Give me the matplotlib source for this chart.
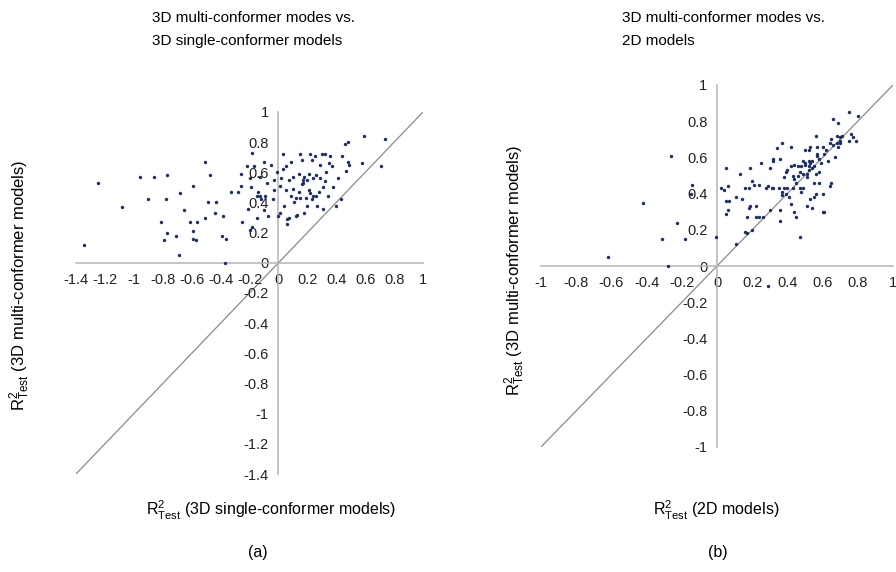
#!/usr/bin/env python3

import matplotlib as mpl
import matplotlib.pyplot as plt
import numpy as np

mpl.rcParams['font.family'] = ['Liberation Sans', 'DejaVu Sans']
mpl.rcParams['mathtext.fontset'] = 'custom'
mpl.rcParams['mathtext.rm'] = 'Liberation Sans'
mpl.rcParams['mathtext.it'] = 'Liberation Sans:italic'
mpl.rcParams['axes.unicode_minus'] = False

# (a) 3D single-conformer (x) vs 3D multi-conformer (y)
a_x = [-1.345, -1.25, -1.08, -0.96, -0.90, -0.86, -0.81, -0.79, -0.78, -0.77,
       -0.77, -0.71, -0.69, -0.68, -0.65, -0.61, -0.59, -0.59, -0.57, -0.59,
       -0.56, -0.51, -0.51, -0.49, -0.47, -0.44, -0.43, -0.39, -0.38, -0.37,
       -0.36, -0.33, -0.28, -0.26, -0.25, -0.26, -0.22, -0.21, -0.20, -0.19,
       -0.18, -0.18, -0.17, -0.15, -0.15, -0.14, -0.13, -0.13, -0.12, -0.10,
       -0.10, -0.09, -0.08, -0.07, -0.05, -0.04, -0.03, -0.03, -0.01, -0.005,
       0.01, 0.01, 0.02, 0.03, 0.03, 0.04, 0.05, 0.05, 0.06, 0.06,
       0.07, 0.07, 0.09, 0.09, 0.10, 0.10, 0.11, 0.12, 0.12, 0.13,
       0.14, 0.14, 0.15, 0.15, 0.16, 0.17, 0.17, 0.18, 0.18, 0.19,
       0.20, 0.20, 0.21, 0.21, 0.22, 0.23, 0.23, 0.24, 0.24, 0.25,
       0.26, 0.26, 0.27, 0.28, 0.29, 0.29, 0.30, 0.31, 0.31, 0.32,
       0.32, 0.33, 0.34, 0.35, 0.36, 0.37, 0.38, 0.40, 0.41, 0.43,
       0.44, 0.46, 0.47, 0.48, 0.48, 0.49, 0.58, 0.59, 0.71, 0.74,
       -0.20, 0.16, 0.22]
a_y = [0.12, 0.53, 0.37, 0.57, 0.42, 0.57, 0.27, 0.15, 0.42, 0.20,
       0.58, 0.18, 0.05, 0.46, 0.35, 0.27, 0.51, 0.16, 0.15, 0.21,
       0.27, 0.67, 0.30, 0.40, 0.58, 0.33, 0.40, 0.18, 0.31, 0.00,
       0.16, 0.47, 0.47, 0.59, 0.27, 0.51, 0.64, 0.36, 0.56, 0.50,
       0.73, 0.24, 0.64, 0.30, 0.44, 0.47, 0.44, 0.57, 0.42, 0.67,
       0.35, 0.44, 0.53, 0.31, 0.65, 0.42, 0.48, 0.55, 0.60, 0.31,
       0.33, 0.51, 0.56, 0.62, 0.72, 0.38, 0.48, 0.64, 0.29, 0.26,
       0.55, 0.30, 0.44, 0.67, 0.49, 0.57, 0.40, 0.31, 0.43, 0.32,
       0.59, 0.47, 0.72, 0.43, 0.68, 0.55, 0.53, 0.57, 0.33, 0.43,
       0.38, 0.55, 0.48, 0.59, 0.72, 0.42, 0.68, 0.56, 0.44, 0.71,
       0.44, 0.58, 0.38, 0.47, 0.65, 0.56, 0.72, 0.36, 0.50, 0.54,
       0.72, 0.60, 0.44, 0.66, 0.71, 0.64, 0.50, 0.38, 0.56, 0.42,
       0.71, 0.79, 0.61, 0.67, 0.80, 0.65, 0.66, 0.84, 0.64, 0.82,
       0.22, 0.52, 0.46]

# (b) 2D (x) vs 3D multi-conformer (y)
b_x = [-0.62, -0.42, -0.31, -0.28, -0.26, -0.23, -0.18, -0.14, -0.15, -0.004,
       0.02, 0.04, 0.05, 0.06, 0.05, 0.06, 0.05, 0.07, 0.11, 0.11,
       0.13, 0.14, 0.16, 0.16, 0.17, 0.17, 0.18, 0.19, 0.18, 0.19,
       0.20, 0.20, 0.21, 0.22, 0.22, 0.24, 0.24, 0.25, 0.26, 0.28,
       0.29, 0.30, 0.29, 0.30, 0.31, 0.32, 0.32, 0.32, 0.34, 0.35,
       0.36, 0.36, 0.36, 0.37, 0.37, 0.37, 0.38, 0.38, 0.39, 0.39,
       0.40, 0.40, 0.41, 0.42, 0.42, 0.42, 0.43, 0.43, 0.44, 0.44,
       0.45, 0.45, 0.46, 0.46, 0.47, 0.47, 0.48, 0.48, 0.49, 0.49,
       0.49, 0.50, 0.50, 0.51, 0.51, 0.51, 0.52, 0.52, 0.52, 0.53,
       0.53, 0.54, 0.54, 0.54, 0.55, 0.55, 0.56, 0.56, 0.56, 0.57,
       0.57, 0.58, 0.58, 0.58, 0.59, 0.60, 0.60, 0.60, 0.61, 0.61,
       0.63, 0.64, 0.64, 0.65, 0.65, 0.66, 0.67, 0.68, 0.68, 0.69,
       0.69, 0.70, 0.70, 0.71, 0.75, 0.75, 0.76, 0.77, 0.79, 0.80,
       0.50, 0.52, 0.53, 0.47, 0.55, 0.44, 0.57, 0.62, 0.66, 0.70]
b_y = [0.05, 0.35, 0.15, 0.00, 0.61, 0.24, 0.15, 0.45, 0.40, 0.16,
       0.43, 0.42, 0.54, 0.44, 0.29, 0.31, 0.36, 0.36, 0.12, 0.38,
       0.51, 0.37, 0.43, 0.19, 0.18, 0.27, 0.32, 0.33, 0.43, 0.54,
       0.20, 0.47, 0.45, 0.27, 0.33, 0.45, 0.27, 0.57, 0.27, 0.43,
       -0.11, 0.31, 0.44, 0.54, 0.43, 0.58, 0.43, 0.59, 0.65, 0.43,
       0.25, 0.31, 0.59, 0.68, 0.41, 0.39, 0.49, 0.43, 0.52, 0.40,
       0.43, 0.53, 0.38, 0.66, 0.55, 0.34, 0.50, 0.43, 0.56, 0.30,
       0.46, 0.27, 0.50, 0.55, 0.43, 0.16, 0.41, 0.55, 0.43, 0.51,
       0.58, 0.64, 0.57, 0.51, 0.33, 0.49, 0.58, 0.64, 0.55, 0.66,
       0.37, 0.54, 0.58, 0.32, 0.46, 0.38, 0.72, 0.51, 0.40, 0.61,
       0.66, 0.46, 0.59, 0.52, 0.57, 0.40, 0.66, 0.30, 0.30, 0.62,
       0.58, 0.68, 0.44, 0.46, 0.70, 0.81, 0.60, 0.68, 0.72, 0.66,
       0.79, 0.69, 0.71, 0.72, 0.69, 0.85, 0.73, 0.71, 0.69, 0.83,
       0.56, 0.53, 0.57, 0.52, 0.55, 0.48, 0.62, 0.64, 0.67, 0.68]

a_ticks = [-1.4, -1.2, -1, -0.8, -0.6, -0.4, -0.2, 0, 0.2, 0.4, 0.6, 0.8, 1]
b_ticks = [-1, -0.8, -0.6, -0.4, -0.2, 0, 0.2, 0.4, 0.6, 0.8, 1]

dot_color = '#1c2f66'
axis_gray = '#b4b4b4'
diag_gray = '#8a8a8a'


def fmt(v):
    if v == int(v):
        return '%d' % v
    return ('%g' % v)


def draw_panel(ax, xs, ys, ticks):
    lo, hi = ticks[0], ticks[-1]
    ax.plot([lo, hi], [lo, hi], '-', color=diag_gray, lw=0.9, zorder=1)
    ax.scatter(xs, ys, s=6, color=dot_color, linewidths=0, zorder=3)
    ax.set_xlim(lo, hi)
    ax.set_ylim(lo, hi)
    for side in ['top', 'right']:
        ax.spines[side].set_visible(False)
    for side in ['left', 'bottom']:
        ax.spines[side].set_position(('data', 0))
        ax.spines[side].set_color(axis_gray)
        ax.spines[side].set_linewidth(1.1)
    ax.set_xticks(ticks)
    ax.set_yticks(ticks)
    ax.set_xticklabels([fmt(t) for t in ticks])
    ax.set_yticklabels([fmt(t) for t in ticks])
    ax.tick_params(axis='both', length=0, labelsize=10.5, colors='#222222')
    ax.tick_params(axis='x', pad=7)
    ax.tick_params(axis='y', pad=7)
    ax.patch.set_visible(False)


fig = plt.figure(figsize=(8.96, 5.72), dpi=100)
ax1 = fig.add_axes([76/896, 1-474/572, 347/896, 362/572])
ax2 = fig.add_axes([541/896, 1-447/572, 352/896, 362/572])
draw_panel(ax1, a_x, a_y, a_ticks)
draw_panel(ax2, b_x, b_y, b_ticks)

r2 = r'R$^{2}_{\mathregular{Test}}$'
fig.text(152/896, 1-11/572, '3D multi-conformer modes vs.\n3D single-conformer models',
         ha='left', va='top', fontsize=11, linespacing=1.8)
fig.text(622/896, 1-11/572, '3D multi-conformer modes vs.\n2D models',
         ha='left', va='top', fontsize=11, linespacing=1.8)
fig.text(271/896, 1-510/572, r2 + ' (3D single-conformer models)',
         ha='center', va='center', fontsize=11.5)
fig.text(716/896, 1-510/572, r2 + ' (2D models)',
         ha='center', va='center', fontsize=11.5)
fig.text(20/896, 1-285/572, r2 + ' (3D multi-conformer models)',
         ha='center', va='center', rotation=90, fontsize=12)
fig.text(515/896, 1-270/572, r2 + ' (3D multi-conformer models)',
         ha='center', va='center', rotation=90, fontsize=12)
fig.text(258/896, 1-553/572, '(a)', ha='center', va='center', fontsize=11.5)
fig.text(718/896, 1-553/572, '(b)', ha='center', va='center', fontsize=11.5)

fig.savefig('out.png', dpi=100)
